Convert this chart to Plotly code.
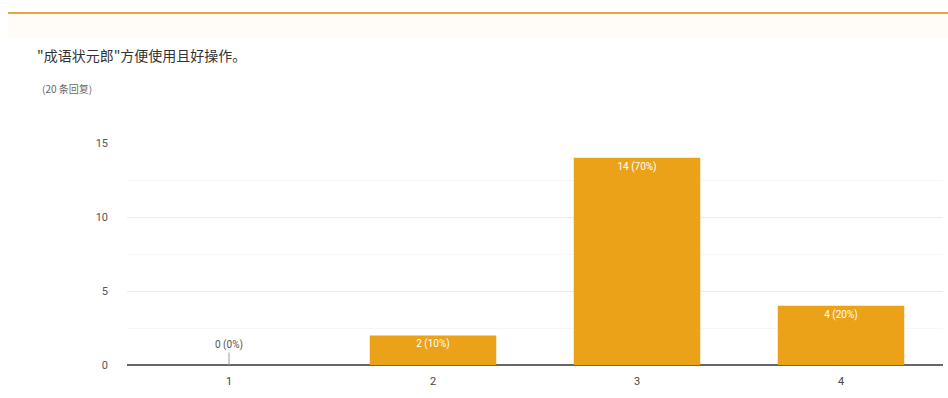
import plotly.graph_objects as go

categories = ["1", "2", "3", "4"]
counts = [0, 2, 14, 4]
total = 20
labels = [f"{c} ({round(c * 100 / total)}%)" for c in counts]
y_ticks = [0, 5, 10, 15]

W, H = 948, 398
L, R, T, B = 127, 5, 143, 33
pw, ph = W - L - R, H - T - B

fig = go.Figure()
fig.add_trace(go.Bar(
    x=[1, 2, 3, 4], y=counts, width=0.62,
    marker=dict(color="#eca218", line=dict(width=0)),
    text=[t if c > 0 else "" for t, c in zip(labels, counts)],
    textposition="inside", insidetextanchor="end",
    textfont=dict(color="white", size=10, family="Roboto, Arial"),
    cliponaxis=False, hoverinfo="skip",
))

# zero-value labels shown above the axis with a short leader line
for i, c in enumerate(counts):
    if c == 0:
        fig.add_annotation(x=i + 1, y=0, xref="x", yref="y", text=labels[i],
                           showarrow=True, arrowhead=0, arrowwidth=1,
                           arrowcolor="#999999", ax=0, ay=-20,
                           font=dict(color="#555555", size=10, family="Roboto, Arial"))

fig.update_layout(
    width=W, height=H, margin=dict(l=L, r=R, t=T, b=B),
    paper_bgcolor="white", plot_bgcolor="white", showlegend=False,
    font=dict(family="Roboto, 'Noto Sans CJK SC', Arial", color="#555555"),
    xaxis=dict(range=[0.5, 4.5], tickvals=[1, 2, 3, 4], ticktext=categories,
               showgrid=False, zeroline=False, showline=False,
               ticks="", tickfont=dict(size=11, color="#444444"), ticklabelstandoff=8),
    yaxis=dict(range=[0, 15], tickvals=y_ticks, showgrid=True, gridcolor="#ececec",
               gridwidth=1, zeroline=True, zerolinecolor="#666666", zerolinewidth=1.5,
               showline=False, ticks="", tickfont=dict(size=11, color="#555555"),
               ticklabelstandoff=18,
               minor=dict(dtick=2.5, showgrid=True, gridcolor="#f7f7f7", gridwidth=1)),
)

# top orange rule
fig.add_shape(type="line", xref="paper", yref="paper",
              x0=(8 - L) / pw, x1=(W - L) / pw,
              y0=(H - B - 13) / ph, y1=(H - B - 13) / ph,
              line=dict(color="#e3a64a", width=2))
fig.add_shape(type="rect", xref="paper", yref="paper",
              x0=(8 - L) / pw, x1=(W - L) / pw,
              y0=(H - B - 38) / ph, y1=(H - B - 14) / ph,
              fillcolor="#fffbf6", line=dict(width=0), layer="below")

fig.add_annotation(xref="paper", yref="paper", x=(35 - L) / pw, y=(H - B - 55) / ph,
                   text='"成语状元郎"方便使用且好操作。', showarrow=False,
                   xanchor="left", yanchor="middle",
                   font=dict(size=14, color="#333333", family="'Noto Sans CJK SC'"))
fig.add_annotation(xref="paper", yref="paper", x=(40 - L) / pw, y=(H - B - 88) / ph,
                   text="(20 条回复)", showarrow=False,
                   xanchor="left", yanchor="middle",
                   font=dict(size=10, color="#666666", family="'Noto Sans CJK SC'"))

fig.write_html("out.html")
